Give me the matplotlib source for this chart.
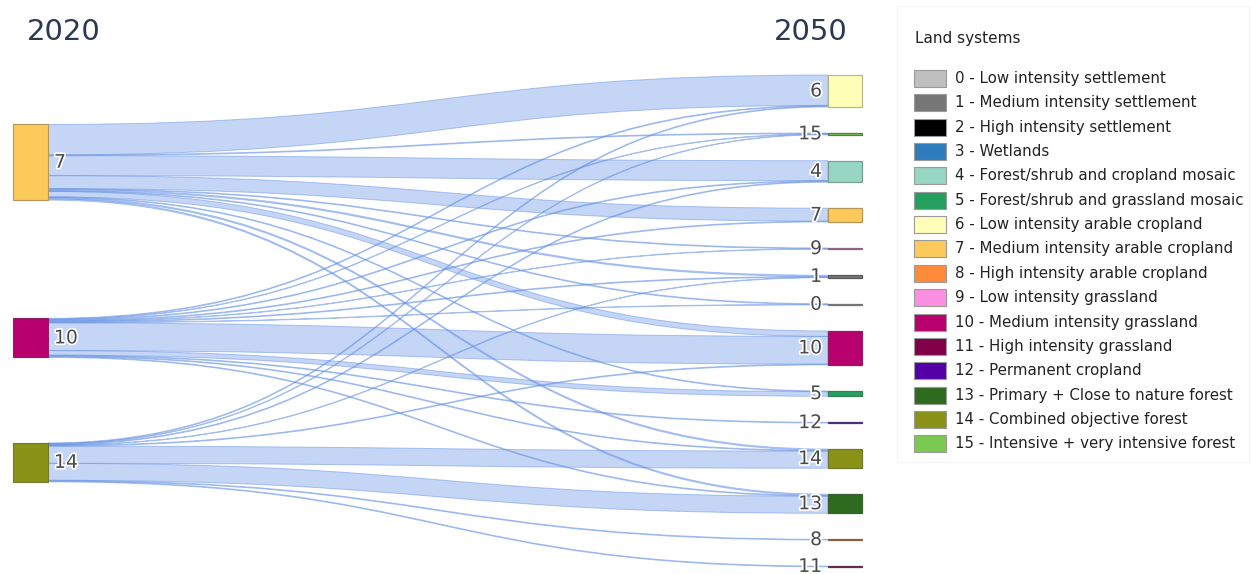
import matplotlib
matplotlib.use("Agg")
import matplotlib.pyplot as plt
from matplotlib.path import Path
from matplotlib.patches import PathPatch, Rectangle
import matplotlib.colors as mcolors
import matplotlib.patheffects as pe

# ---------------- data ----------------
year_from = "2020"
year_to = "2050"
nodes_2020 = [7, 10, 14]
nodes_2050 = [6, 15, 4, 7, 9, 1, 0, 10, 5, 12, 14, 13, 8, 11]

link_source = [7, 7, 7, 7, 7, 7, 7, 7, 7, 7, 7,
               10, 10, 10, 10, 10, 10, 10, 10, 10, 10, 10, 10,
               14, 14, 14, 14, 14, 14, 14, 14, 14]
link_target = [6, 15, 4, 7, 9, 1, 0, 10, 5, 14, 13,
               6, 15, 4, 7, 9, 1, 0, 10, 5, 12, 14, 13,
               6, 15, 4, 1, 10, 14, 13, 8, 11]
link_value = [19.5, 0.5, 12.8, 8.3, 0.5, 0.8, 0.5, 3.5, 0.5, 0.8, 0.8,
              0.5, 0.3, 0.5, 0.5, 0.3, 0.5, 0.3, 17.8, 2.9, 0.5, 0.5, 0.5,
              0.5, 0.3, 0.5, 0.3, 0.5, 11.0, 10.9, 0.5, 0.5]

legend_title = "Land systems"
class_codes = list(range(16))
class_names = [
    "Low intensity settlement",
    "Medium intensity settlement",
    "High intensity settlement",
    "Wetlands",
    "Forest/shrub and cropland mosaic",
    "Forest/shrub and grassland mosaic",
    "Low intensity arable cropland",
    "Medium intensity arable cropland",
    "High intensity arable cropland",
    "Low intensity grassland",
    "Medium intensity grassland",
    "High intensity grassland",
    "Permanent cropland",
    "Primary + Close to nature forest",
    "Combined objective forest",
    "Intensive + very intensive forest",
]
class_colors = [
    "#bfbfbf", "#777777", "#000000", "#2e7ebf", "#96d6c2", "#24a05e",
    "#ffffb8", "#fdc95b", "#fd8b3a", "#fb8fe1", "#b8006f", "#7f0047",
    "#5300a8", "#2e6b1f", "#8a9317", "#7bc950",
]

# ---------------- layout (pixels) ----------------
W, H = 1251, 574
px_per_unit = 1.56
pad = 26.0
col_top = 75.0
left_x0, left_x1 = 13.0, 48.0
right_x0, right_x1 = 828.0, 862.0
left_centre_frac = [0.176, 0.530, 0.781]   # node y placement within column
col_span = 496.0

fig = plt.figure(figsize=(W / 100, H / 100), dpi=100)
ax = fig.add_axes([0, 0, 1, 1])
ax.set_xlim(0, W)
ax.set_ylim(H, 0)
ax.axis("off")


def darker(c, f=0.5, grey=0.3):
    r, g, b = mcolors.to_rgb(c)
    return (r * f + grey * (1 - f), g * f + grey * (1 - f), b * f + grey * (1 - f))


# node sizes
out_tot = {n: 0.0 for n in nodes_2020}
in_tot = {n: 0.0 for n in nodes_2050}
for s, t, v in zip(link_source, link_target, link_value):
    out_tot[s] += v
    in_tot[t] += v

# right column positions (stacked with padding)
right_top = {}
y = col_top
for n in nodes_2050:
    right_top[n] = y
    y += in_tot[n] * px_per_unit + pad

# left column positions
left_top = {}
for n, f in zip(nodes_2020, left_centre_frac):
    c = col_top + f * col_span
    left_top[n] = c - out_tot[n] * px_per_unit / 2

# link ordering
links = list(zip(link_source, link_target, link_value))
src_offset = {n: left_top[n] for n in nodes_2020}
tgt_offset = {n: right_top[n] for n in nodes_2050}
src_pos = {}
for s in nodes_2020:
    for (ls, lt, v) in sorted([l for l in links if l[0] == s],
                              key=lambda l: nodes_2050.index(l[1])):
        h = v * px_per_unit
        src_pos[(ls, lt)] = (src_offset[s], src_offset[s] + h)
        src_offset[s] += h
tgt_pos = {}
for t in nodes_2050:
    for (ls, lt, v) in sorted([l for l in links if l[1] == t],
                              key=lambda l: nodes_2020.index(l[0])):
        h = v * px_per_unit
        tgt_pos[(ls, lt)] = (tgt_offset[t], tgt_offset[t] + h)
        tgt_offset[t] += h

xm = (left_x1 + right_x0) / 2
link_face = (110 / 255, 150 / 255, 230 / 255, 0.40)
link_edge = (100 / 255, 145 / 255, 230 / 255, 0.50)
for (s, t, v) in links:
    s0, s1 = src_pos[(s, t)]
    t0, t1 = tgt_pos[(s, t)]
    verts = [(left_x1, s0), (xm, s0), (xm, t0), (right_x0, t0),
             (right_x0, t1), (xm, t1), (xm, s1), (left_x1, s1), (left_x1, s0)]
    codes = [Path.MOVETO, Path.CURVE4, Path.CURVE4, Path.CURVE4,
             Path.LINETO, Path.CURVE4, Path.CURVE4, Path.CURVE4, Path.CLOSEPOLY]
    ax.add_patch(PathPatch(Path(verts, codes), facecolor=link_face,
                           edgecolor=link_edge, lw=0.7, zorder=2))

label_fx = [pe.withStroke(linewidth=2.5, foreground="white")]
label_col = "#4a4a4a"
for n in nodes_2020:
    h = out_tot[n] * px_per_unit
    col = class_colors[n]
    ax.add_patch(Rectangle((left_x0, left_top[n]), left_x1 - left_x0, h,
                           facecolor=col, edgecolor=darker(col, 0.6), lw=0.8, zorder=3))
    ax.text(left_x1 + 6, left_top[n] + h / 2, str(n), ha="left", va="center",
            fontsize=13.5, color=label_col, path_effects=label_fx, zorder=4)
for n in nodes_2050:
    h = in_tot[n] * px_per_unit
    col = class_colors[n]
    f = 0.6 if h > 4 else 0.35
    ax.add_patch(Rectangle((right_x0, right_top[n]), right_x1 - right_x0, h,
                           facecolor=col, edgecolor=darker(col, f), lw=0.9, zorder=3))
    ax.text(right_x0 - 6, right_top[n] + h / 2, str(n), ha="right", va="center",
            fontsize=13.5, color=label_col, path_effects=label_fx, zorder=4)

ax.text(27, 32, year_from, ha="left", va="center", fontsize=21, color="#2b3a52")
ax.text(848, 32, year_to, ha="right", va="center", fontsize=21, color="#2b3a52")

# ---------------- legend ----------------
ax.add_patch(Rectangle((897, 6), 352, 456, facecolor="none",
                       edgecolor="#f4f4f4", lw=0.8, zorder=1))
ax.text(915, 38, legend_title, ha="left", va="center", fontsize=11, color="#222222")
leg_y0, leg_dy = 78.5, 24.35
for i, (code, name) in enumerate(zip(class_codes, class_names)):
    yc = leg_y0 + i * leg_dy
    ax.add_patch(Rectangle((914, yc - 8.5), 32, 17, facecolor=class_colors[code],
                           edgecolor="#9a9a9a", lw=0.8, zorder=3))
    ax.text(955, yc, f"{code} - {name}", ha="left", va="center",
            fontsize=10.8, color="#222222")

fig.savefig("out.png", dpi=100)
